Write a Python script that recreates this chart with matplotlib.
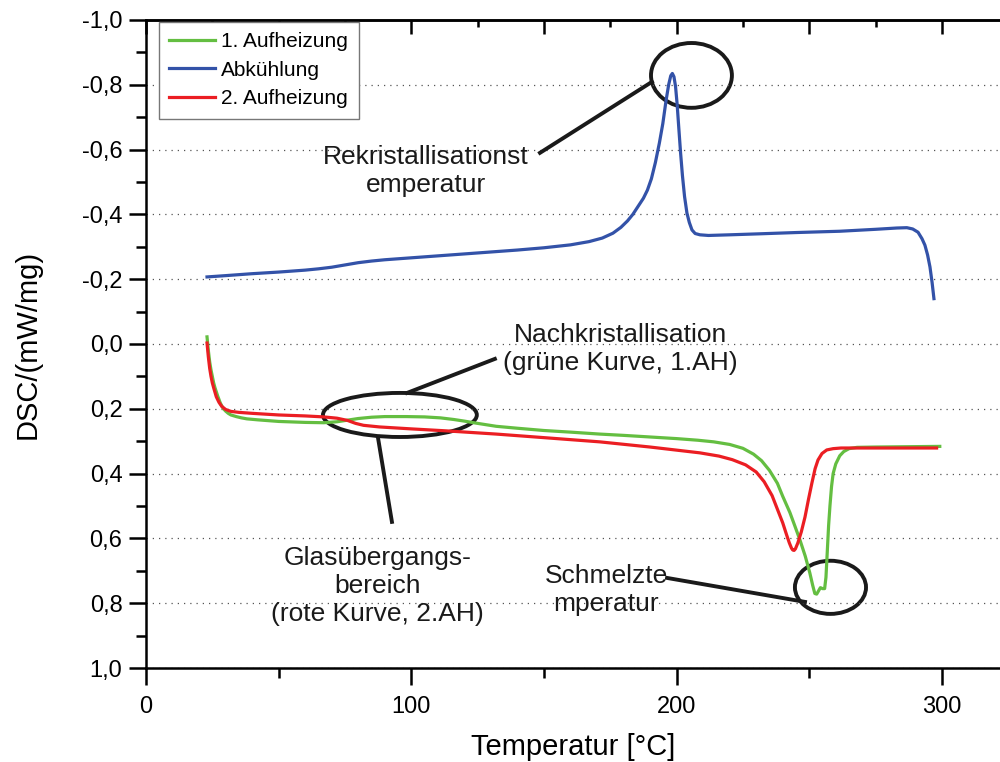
import numpy as np
import matplotlib
matplotlib.use("Agg")
from matplotlib import pyplot as plt
from matplotlib.patches import Ellipse
from matplotlib.ticker import FuncFormatter, MultipleLocator

temp_ab = [23, 30, 40, 50, 60, 65, 70, 75, 80, 85, 90, 100, 110, 120, 130, 140, 150,
           160, 167, 172, 176, 179, 181.5, 183.5, 185.5, 187.5, 189, 190.5, 192, 193.5,
           194.8, 196, 197, 197.8, 198.4, 199, 199.6, 200.2, 200.8, 201.5, 202.2, 203,
           203.9, 204.8, 205.8, 207, 208.8, 212, 220, 231, 245, 261.5, 275, 283, 286.8,
           289, 291, 292.5, 293.6, 294.6, 295.5, 296.3, 297]
dsc_ab = [-0.207, -0.211, -0.217, -0.222, -0.228, -0.232, -0.237, -0.244, -0.251,
          -0.256, -0.260, -0.266, -0.272, -0.278, -0.284, -0.290, -0.297, -0.306,
          -0.316, -0.327, -0.342, -0.360, -0.380, -0.400, -0.425, -0.450, -0.475,
          -0.510, -0.560, -0.620, -0.680, -0.750, -0.800, -0.828, -0.835, -0.825,
          -0.795, -0.740, -0.670, -0.590, -0.520, -0.455, -0.404, -0.375, -0.352,
          -0.341, -0.337, -0.335, -0.337, -0.340, -0.344, -0.348, -0.354, -0.358,
          -0.359, -0.355, -0.345, -0.325, -0.305, -0.275, -0.238, -0.190, -0.140]

temp_ah1 = [23, 23.5, 24, 24.5, 25, 25.5, 26, 27, 28, 29, 30, 31, 32, 34, 36, 38, 42,
            50, 60, 67, 72, 76, 80, 85, 90, 98, 105, 111, 116, 120, 125, 132, 140,
            150, 160, 171, 180, 190, 200, 208, 214, 220, 225, 229, 232, 235, 238, 240,
            242.7, 244.5, 246.5, 248.5, 250.2, 251.3, 252.1, 252.8, 253.5, 254.2, 255,
            255.8, 256.3, 256.8, 257.3, 257.8, 258.4, 259, 260, 261.5, 263, 265, 268,
            275, 299.2]
dsc_ah1 = [-0.022, 0.020, 0.055, 0.080, 0.100, 0.120, 0.135, 0.160, 0.182, 0.198,
           0.207, 0.214, 0.219, 0.224, 0.228, 0.231, 0.234, 0.239, 0.242, 0.243,
           0.240, 0.235, 0.230, 0.226, 0.224, 0.224, 0.225, 0.228, 0.233, 0.238,
           0.245, 0.254, 0.260, 0.267, 0.272, 0.278, 0.282, 0.287, 0.292, 0.297,
           0.302, 0.310, 0.322, 0.340, 0.360, 0.390, 0.430, 0.470, 0.520, 0.560,
           0.605, 0.655, 0.706, 0.745, 0.770, 0.772, 0.762, 0.752, 0.755, 0.755,
           0.720, 0.640, 0.560, 0.500, 0.440, 0.400, 0.370, 0.345, 0.332, 0.323,
           0.319, 0.318, 0.316]

temp_ah2 = [23, 23.5, 24, 24.5, 25, 25.5, 26.5, 27.5, 28.5, 30, 32, 35, 40, 50, 60,
            67, 72, 76, 79, 82, 88, 100, 113, 132, 150, 171, 190, 208.8, 216, 221,
            226, 230, 233, 236, 238, 240, 241.5, 242.5, 243.3, 243.8, 244.3, 244.8,
            245.7, 247, 248.4, 249.7, 251, 252.2, 253.3, 254.8, 256.6, 259, 262, 298]
dsc_ah2 = [-0.003, 0.040, 0.075, 0.100, 0.120, 0.135, 0.163, 0.180, 0.192, 0.202,
           0.208, 0.211, 0.214, 0.219, 0.222, 0.225, 0.229, 0.236, 0.245, 0.251,
           0.256, 0.262, 0.268, 0.278, 0.289, 0.302, 0.318, 0.336, 0.346, 0.357,
           0.373, 0.395, 0.425, 0.468, 0.510, 0.552, 0.590, 0.614, 0.630, 0.636,
           0.637, 0.632, 0.614, 0.580, 0.534, 0.480, 0.429, 0.385, 0.358, 0.338,
           0.327, 0.323, 0.321, 0.321]

kurven_namen = ["1. Aufheizung", "Abkühlung", "2. Aufheizung"]
farben = ["#64be41", "#3352a8", "#eb1e23"]


def komma(wert, pos):
    return "{:.1f}".format(round(wert, 2) + 0.0).replace(".", ",")


def main():
    plt.rcParams["font.family"] = ["Liberation Sans", "DejaVu Sans"]
    fig = plt.figure(figsize=(10, 7.62), dpi=100)
    ax = fig.add_axes([0.146, 1 - 668 / 762, 0.854, 648 / 762])

    ax.plot(temp_ah1, dsc_ah1, color=farben[0], lw=2.3, label=kurven_namen[0])
    ax.plot(temp_ab, dsc_ab, color=farben[1], lw=2.3, label=kurven_namen[1])
    ax.plot(temp_ah2, dsc_ah2, color=farben[2], lw=2.3, label=kurven_namen[2])

    ax.set_xlim(0, 321.9)
    ax.set_ylim(1.0, -1.0)

    # Achsen, Ticks
    ax.spines["right"].set_visible(False)
    for s in ["left", "bottom", "top"]:
        ax.spines[s].set_linewidth(1.8)
    ax.xaxis.set_major_locator(MultipleLocator(100))
    ax.xaxis.set_minor_locator(MultipleLocator(50))
    ax.yaxis.set_major_locator(MultipleLocator(0.2))
    ax.yaxis.set_minor_locator(MultipleLocator(0.1))
    ax.yaxis.set_major_formatter(FuncFormatter(komma))
    ax.tick_params(which="major", direction="out", length=12, width=1.8, labelsize=17)
    ax.tick_params(which="minor", direction="out", length=7, width=1.8)
    ax.tick_params(axis="x", which="major", pad=8)
    ax.tick_params(axis="y", which="major", pad=5)

    oben = ax.secondary_xaxis("top")
    oben.set_xticks(np.arange(0, 325, 50))
    oben.set_xticks(np.arange(0, 325, 25), minor=True)
    oben.tick_params(which="major", direction="in", length=10, width=1.8, labeltop=False)
    oben.tick_params(which="minor", direction="in", length=5, width=1.8)
    oben.spines["top"].set_linewidth(1.8)

    ax.grid(axis="y", which="major", color="#555555", lw=0.9, ls=(0, (1, 4)))

    ax.set_xlabel("Temperatur [°C]", fontsize=21)
    ax.set_ylabel("DSC/(mW/mg)", fontsize=21)
    ax.xaxis.set_label_coords(0.5, -0.1)
    ax.yaxis.set_label_coords(-0.122, 0.5)

    leg = ax.legend(loc="upper left", bbox_to_anchor=(0.015, 0.997), borderaxespad=0,
                    fontsize=15, fancybox=False, framealpha=1, edgecolor="#777777",
                    handlelength=2.2, handletextpad=0.3, labelspacing=0.45,
                    borderpad=0.5)
    leg.get_frame().set_linewidth(1.0)

    # Markierungen
    kw = dict(fill=False, ec="#1a1a1a", lw=2.8)
    ax.add_patch(Ellipse((205.6, -0.829), 30.5, 0.20, **kw))
    ax.add_patch(Ellipse((95.7, 0.219), 58, 0.136, **kw))
    ax.add_patch(Ellipse((258, 0.751), 26.8, 0.164, **kw))
    ax.plot([148.5, 190.7], [-0.590, -0.809], color="#1a1a1a", lw=2.8)
    ax.plot([98.4, 131.5], [0.151, 0.046], color="#1a1a1a", lw=2.8)
    ax.plot([87.4, 92.7], [0.287, 0.549], color="#1a1a1a", lw=2.8)
    ax.plot([196.4, 248.4], [0.722, 0.796], color="#1a1a1a", lw=2.8)

    tkw = dict(ha="center", va="center", fontsize=19, color="#1a1a1a", linespacing=1.22)
    ax.text(105.5, -0.534, "Rekristallisationst\nemperatur", **tkw)
    ax.text(178.8, 0.015, "Nachkristallisation\n(grüne Kurve, 1.AH)", **tkw)
    ax.text(87.2, 0.747, "Glasübergangs-\nbereich\n(rote Kurve, 2.AH)", **tkw)
    ax.text(173.5, 0.758, "Schmelzte\nmperatur", **tkw)

    fig.savefig("out.png", dpi=100)


if __name__ == "__main__":
    main()
